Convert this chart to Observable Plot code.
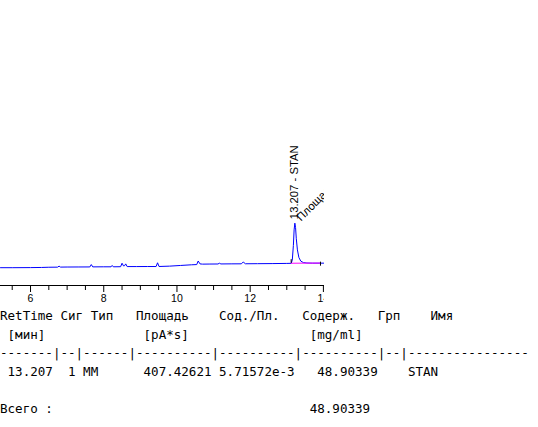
<!DOCTYPE html>
<html>
<head>
<meta charset="utf-8">
<script src="https://cdn.jsdelivr.net/npm/d3@7"></script>
<script src="https://cdn.jsdelivr.net/npm/@observablehq/plot@0.6"></script>
<style>
  html, body { margin: 0; padding: 0; background: white; overflow: hidden; }
  #report { margin: 0; font-family: "DejaVu Sans Mono", monospace; font-size: 12.55px; line-height: 18.6px; color: #000; white-space: pre; }
</style>
</head>
<body>
<div id="chart"></div>
<pre id="report"></pre>
<script>
// Chromatogram signal (time in min, signal in pA)
const times  = [5.18, 5.5, 6.0, 6.3, 6.5, 6.74, 6.78, 6.82, 7.0, 7.3, 7.62, 7.66, 7.70, 8.0, 8.20, 8.23, 8.26, 8.46, 8.50, 8.54, 8.57, 8.60, 8.64, 8.9, 9.2, 9.43, 9.47, 9.51, 9.8, 10.1, 10.4, 10.54, 10.58, 10.63, 10.7, 10.9, 11.12, 11.16, 11.2, 11.5, 11.76, 11.81, 11.87, 12.2, 12.6, 13.0, 13.12, 13.15, 13.18, 13.20, 13.22, 13.24, 13.26, 13.29, 13.33, 13.38, 13.45, 13.55, 13.7, 13.9, 14.03];
const signal = [5.0, 5.0, 5.2, 5.5, 6.0, 6.2, 8.5, 6.3, 6.5, 6.6, 6.7, 12.0, 6.8, 7.0, 7.0, 10.0, 7.0, 7.2, 15.0, 9.0, 9.5, 13.5, 7.5, 7.5, 7.6, 7.6, 16.0, 7.7, 8.5, 10.0, 11.5, 12.0, 20.0, 13.5, 13.0, 13.2, 13.3, 15.0, 13.4, 13.6, 13.7, 17.8, 13.8, 14.0, 14.2, 14.6, 14.8, 22.0, 55.0, 90.0, 105.0, 95.0, 70.0, 45.0, 28.0, 20.0, 16.5, 15.5, 15.2, 15.2, 15.2];

// Integrated peak
const peakTimes   = [13.207];
const peakNames   = ["STAN"];
const peakHeights = [105.0];
const peakAreas   = [407.42621];
const peakStart   = [13.12];
const peakEnd     = [13.92];
const baseStart   = [15.0];
const baseEnd     = [15.4];

// Axis ticks
const majorTicks = [6, 8, 10, 12, 14];
const minorTicks = [5.5, 6.5, 7, 7.5, 8.5, 9, 9.5, 10.5, 11, 11.5, 12.5, 13, 13.5];

// Report table
const headers  = ["RetTime", "Сиг", "Тип", "Площадь", "Сод./Пл.", "Содерж.", "Грп", "Имя"];
const units    = [" [мин]", "", "", "[pA*s]", "", "[mg/ml]", "", ""];
const rowRet   = ["13.207"];
const rowSig   = ["1"];
const rowType  = ["MM"];
const rowArea  = ["407.42621"];
const rowRatio = ["5.71572e-3"];
const rowAmt   = ["48.90339"];
const rowGrp   = [""];
const rowName  = ["STAN"];
const totalLabel = "Всего :";
const totalAmt   = "48.90339";

const signalData = times.map((t, i) => ({t, v: signal[i]}));
const peaks = peakTimes.map((t, i) => ({
  t, h: peakHeights[i], name: peakNames[i], area: peakAreas[i],
  s: peakStart[i], e: peakEnd[i], bs: baseStart[i], be: baseEnd[i]
}));
const baseline = peaks.flatMap(p => [{t: p.s, v: p.bs}, {t: p.e, v: p.be}]);

const chart = Plot.plot({
  width: 324,
  height: 307,
  marginTop: 0, marginRight: 0, marginBottom: 22, marginLeft: 0,
  x: {domain: [5.18, 14.03]},
  y: {domain: [-35, 605], axis: null},
  style: {fontFamily: "'Liberation Sans', Arial, sans-serif", fontSize: "10.5px", overflow: "hidden", background: "white", color: "#000"},
  marks: [
    Plot.line(signalData, {x: "t", y: "v", stroke: "#0000ff", strokeWidth: 1}),
    Plot.line(baseline, {x: "t", y: "v", stroke: "#ff00ff", strokeWidth: 1}),
    Plot.ruleX(peaks, {x: "s", y1: d => d.bs, y2: d => d.bs + 8, stroke: "#000"}),
    Plot.ruleX(peaks, {x: "e", y1: d => d.be - 7, y2: d => d.be + 2, stroke: "#000"}),
    Plot.frame({anchor: "bottom", stroke: "#000"}),
    Plot.axisX({ticks: majorTicks, tickSize: 7, tickPadding: 2.5, label: null, tickFormat: d => String(d)}),
    Plot.axisX({ticks: minorTicks, tickSize: 5, text: null, label: null}),
    Plot.text(peaks, {x: "t", y: "h", text: d => `${d.t.toFixed(3)} - ${d.name}`, rotate: -90, textAnchor: "start", dy: -4, fontSize: 11.3, fill: "#000"}),
    Plot.text(peaks, {x: "t", y: "h", text: d => `Площадь: ${d.area.toFixed(2)}`, rotate: -45, textAnchor: "start", dx: 4, dy: -4, fontSize: 11.3, fill: "#000"})
  ]
});
chart.style.display = "block";
document.getElementById("chart").appendChild(chart);

// Build report text
const starts = [0, 8, 12, 18, 29, 40, 50, 57];
function place(cols, positions) {
  let s = "";
  cols.forEach((c, i) => {
    if (!c) return;
    if (s.length < positions[i]) s = s.padEnd(positions[i], " ");
    s += c;
  });
  return s;
}
const line1 = place(headers, starts);
const line2 = place(units, [0, 0, 0, 19, 0, 41, 0, 0]);
const line3 = ["-------", "--", "------", "----------", "----------", "----------", "--", "----------------"].join("|");
const rows = rowRet.map((r, i) => place([" " + r, rowSig[i], rowType[i], rowArea[i], rowRatio[i], rowAmt[i], rowGrp[i], rowName[i]], [0, 9, 11, 19, 29, 42, 50, 54]));
const totalLine = place([totalLabel, totalAmt], [0, 41]);
document.getElementById("report").textContent = [line1, line2, line3, ...rows, "", totalLine].join("\n");
</script>
</body>
</html>
